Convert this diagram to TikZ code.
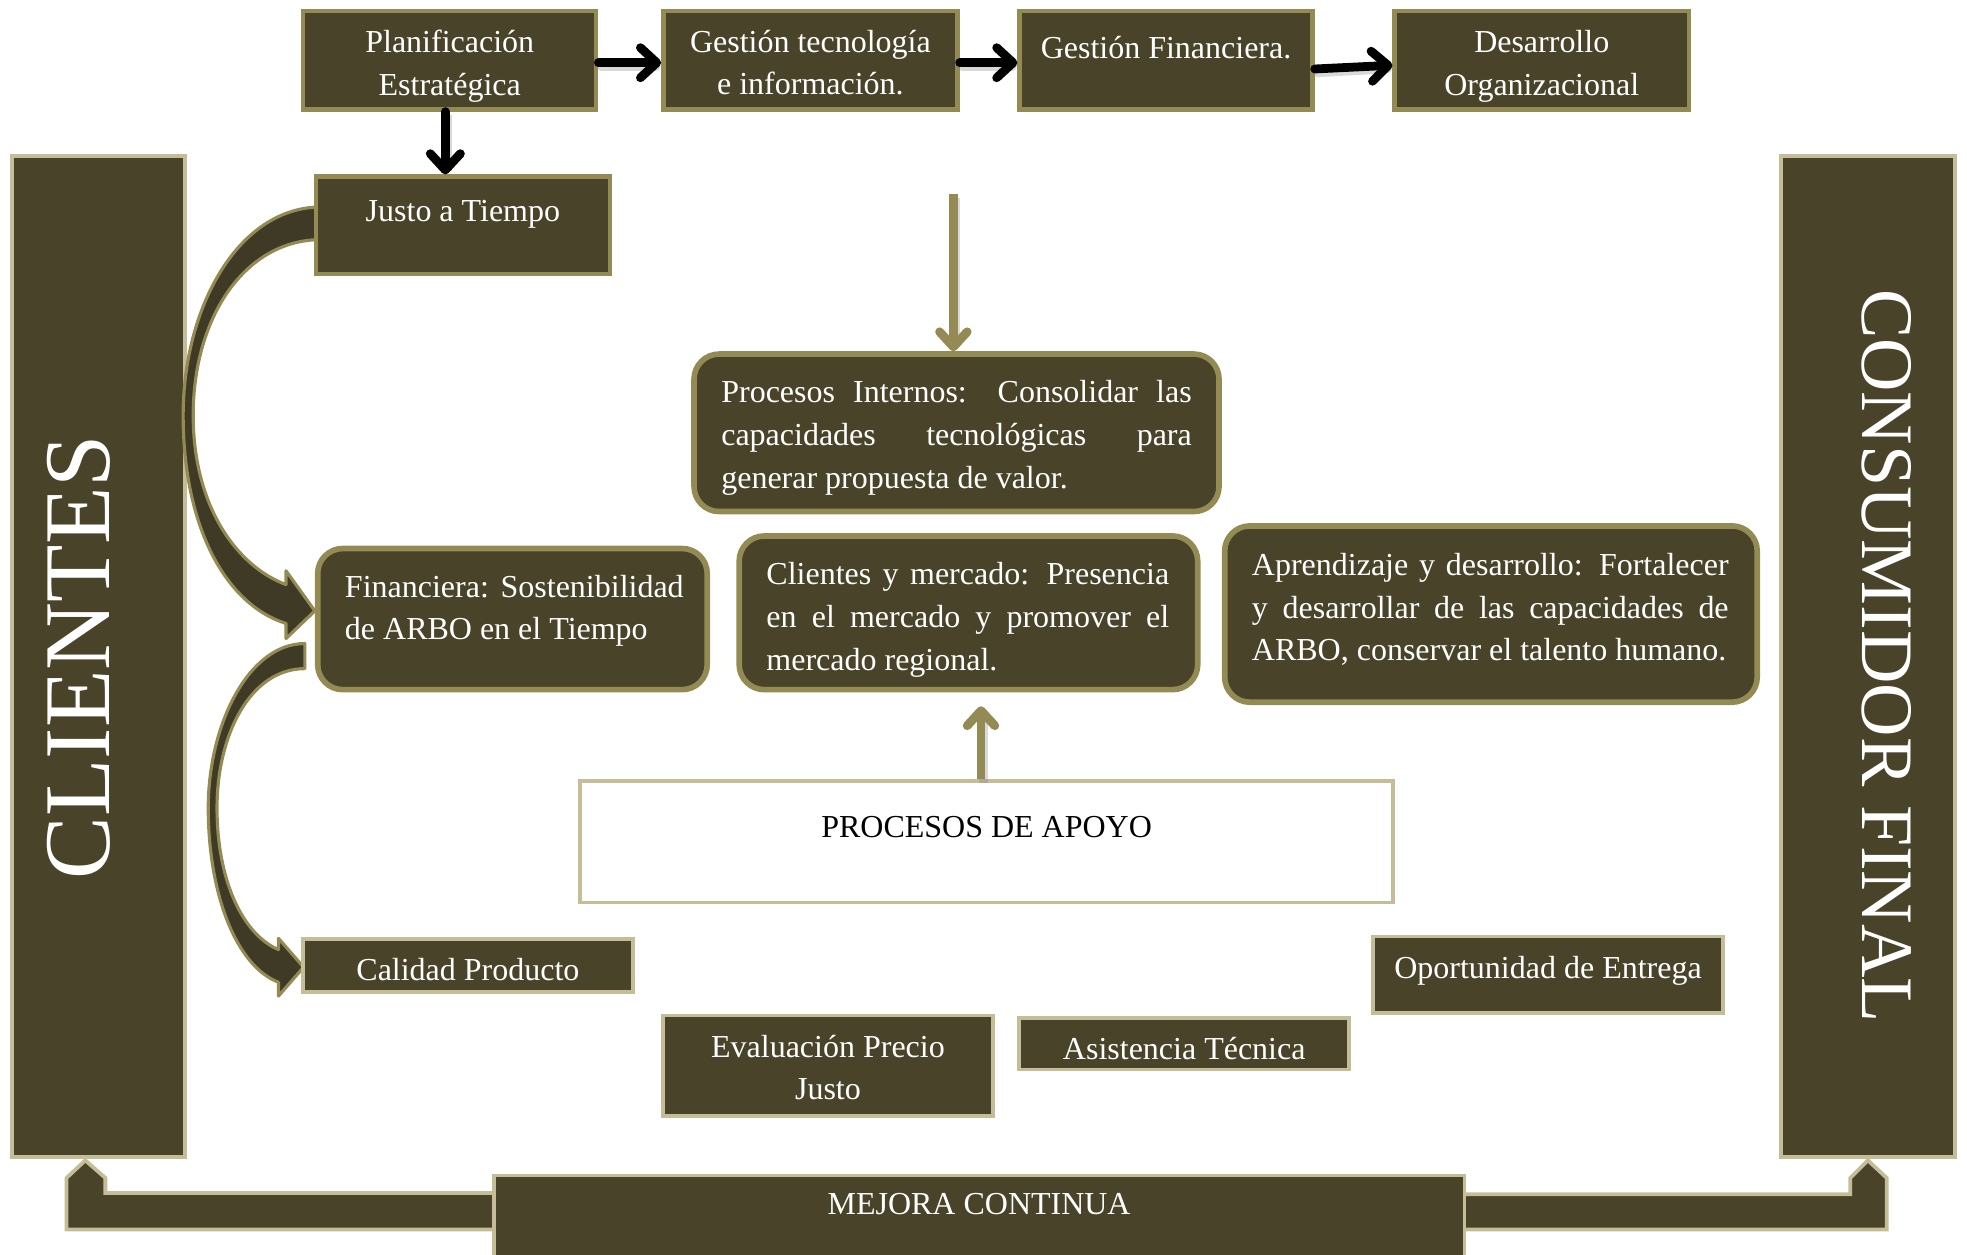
\documentclass[tikz,border=0pt]{standalone}
\usepackage{fontspec}
\setmainfont{Liberation Serif}
\usetikzlibrary{arrows.meta}
\definecolor{boxfill}{HTML}{494429}
\definecolor{olive}{HTML}{948A54}
\definecolor{tan}{HTML}{C4BD97}
\definecolor{ribbon}{HTML}{3F3A26}

\begin{document}
\begin{tikzpicture}[x=1pt,y=-1pt,
  darkbox/.style={rectangle, draw=olive, line width=3.5pt, fill=boxfill, inner sep=0pt},
  tanbox/.style={rectangle, draw=tan, line width=3pt, fill=boxfill, inner sep=0pt},
  roundbox/.style={rectangle, rounded corners=20pt, draw=olive, line width=4.5pt, fill=boxfill, inner sep=0pt},
  whitebox/.style={rectangle, draw=tan, line width=3pt, fill=white, inner sep=0pt},
  txt/.style={text=white, font=\fontsize{25.5}{34}\selectfont, inner sep=0pt, align=center},
  justtxt/.style={txt, align=justify},
  blackarrow/.style={draw=black, line width=7pt, line cap=round,
    -{Straight Barb[length=13pt,width=24pt,line join=round,line cap=round]}},
  olivearrow/.style={draw=olive, line width=7pt,
    -{Straight Barb[length=12pt,width=22pt,line join=round,line cap=round]}},
  arrowshadow/.style={draw=black!50, opacity=0.3, transform canvas={xshift=2pt,yshift=-3pt}},
  ribbonarrow/.style={fill=ribbon, draw=olive, line width=2.5pt, line join=round},
  bentarrow/.style={fill=boxfill, draw=tan, line width=3pt, line join=miter}
]
\useasboundingbox (0,0) rectangle (1568,1000);
\clip (0,0) rectangle (1568,1000);

% side columns
\node[tanbox, minimum width=138pt, minimum height=798pt] (clientes) at (78.5,523.5) {};
\node[tanbox, minimum width=139pt, minimum height=798pt] (consumidor) at (1489,523.5) {};
\node[text=white, font=\fontsize{75}{75}\selectfont, inner sep=0pt, rotate=90] (tclientes) at (62.5,524) {CLIENTES};
\node[text=white, font=\fontsize{59}{59}\selectfont, inner sep=0pt, rotate=-90] (tconsumidor) at (1504,523) {CONSUMIDOR FINAL};

% curved ribbon arrows on the left
\filldraw[ribbonarrow] (256,165) .. controls (190,165) and (146,245) .. (146,331)
  .. controls (146,420) and (180,482) .. (228,497)
  -- (228,509) -- (251,487) -- (228,455) -- (228,466)
  .. controls (190,452) and (154,405) .. (154,331)
  .. controls (154,252) and (196,191) .. (256,191) -- cycle;
\filldraw[ribbonarrow] (243,513) .. controls (198,513) and (166,578) .. (166,644)
  .. controls (166,712) and (188,770) .. (222,783)
  -- (222,794) -- (242,771) -- (222,748) -- (222,757)
  .. controls (194,745) and (173,703) .. (173,644)
  .. controls (173,585) and (200,533) .. (243,533) -- cycle;

% continuous improvement loop arrows
\filldraw[bentarrow] (68,925) -- (84,939) -- (84,951) -- (400,951) -- (400,980)
  -- (53,980) -- (53,939) -- cycle;
\filldraw[bentarrow] (1489,925) -- (1504,939) -- (1504,980) -- (1160,980)
  -- (1160,952) -- (1475,952) -- (1475,939) -- cycle;
\node[tanbox, minimum width=774pt, minimum height=90pt, anchor=north] (mejora) at (780.5,935.5) {};
\node[txt] (tmejora) at (780.5,960) {MEJORA CONTINUA};

% strategic chain
\node[darkbox, minimum width=233.5pt, minimum height=78.5pt] (plan) at (358.5,48) {};
\node[darkbox, minimum width=234.5pt, minimum height=78.5pt] (gtec) at (646,48) {};
\node[darkbox, minimum width=233.5pt, minimum height=78.5pt] (gfin) at (929.5,48) {};
\node[darkbox, minimum width=234.5pt, minimum height=78.5pt] (desa) at (1229,48) {};
\node[txt] (tplan) at (358.5,53) {Planificación\\Estratégica};
\node[txt] (tgtec) at (646,50) {Gestión tecnología\\e información.};
\node[txt] (tgfin) at (929.5,38) {Gestión Financiera.};
\node[txt] (tdesa) at (1229,53) {Desarrollo\\Organizacional};

\node[darkbox, minimum width=234.5pt, minimum height=77.5pt] (justo) at (369,179.5) {};
\node[txt] (tjusto) at (369,171) {Justo a Tiempo};

% perspective boxes
\node[roundbox, minimum width=418.5pt, minimum height=125.5pt] (procint) at (762.5,345) {};
\node[justtxt, text width=375pt] (tprocint) at (762.5,349)
  {Procesos Internos: Consolidar las\linebreak capacidades tecnológicas para\linebreak generar propuesta de valor.};
\node[roundbox, minimum width=310.5pt, minimum height=112.5pt] (finan) at (408.5,493.5) {};
\node[justtxt, text width=270pt] (tfinan) at (410,487)
  {Financiera: Sostenibilidad\linebreak de ARBO en el Tiempo};
\node[roundbox, minimum width=365.5pt, minimum height=122.5pt] (clmer) at (772,488.5) {};
\node[justtxt, text width=321pt] (tclmer) at (771.5,494)
  {Clientes y mercado: Presencia\linebreak en el mercado y promover el\linebreak mercado regional.};
\node[roundbox, minimum width=424.5pt, minimum height=140.5pt] (aprend) at (1188.5,489.5) {};
\node[justtxt, text width=380pt] (taprend) at (1188,486)
  {Aprendizaje y desarrollo: Fortalecer\linebreak y desarrollar de las capacidades de\linebreak ARBO, conservar el talento humano.};

% support processes
\node[whitebox, minimum width=648pt, minimum height=97pt] (apoyo) at (786.5,671) {};
\node[txt, text=black] (tapoyo) at (786.5,659) {PROCESOS DE APOYO};

% operational boxes
\node[tanbox, minimum width=263pt, minimum height=42pt] (calidad) at (373,769.5) {};
\node[txt] (tcalidad) at (373,773) {Calidad Producto};
\node[tanbox, minimum width=279pt, minimum height=61pt] (oport) at (1234,777) {};
\node[txt] (toport) at (1234,774) {Oportunidad de Entrega};
\node[tanbox, minimum width=263pt, minimum height=80pt] (evalu) at (660,849.5) {};
\node[txt] (tevalu) at (660,851) {Evaluación Precio\\Justo};
\node[tanbox, minimum width=263pt, minimum height=41pt] (asist) at (944,832) {};
\node[txt] (tasist) at (944,836) {Asistencia Técnica};

% black arrows of the strategic chain
\coordinate (ptop) at (760,155);
\foreach \a/\b/\sa/\sb in {plan/gtec/-2pt/-2pt, gtec/gfin/-2pt/-2pt, gfin/desa/-7pt/-4pt}{
  \draw[arrowshadow, line width=7pt, line cap=round] ([yshift=\sa]\a.east) -- ([yshift=\sb,xshift=-6pt]\b.west);
  \draw[blackarrow] ([yshift=\sa]\a.east) -- ([yshift=\sb]\b.west);
}
\draw[arrowshadow, line width=7pt] ([xshift=-3.5pt]plan.south) -- ([xshift=-3.5pt,yshift=6pt]plan.south |- justo.north);
\draw[blackarrow] ([xshift=-3.5pt]plan.south) -- ([xshift=-3.5pt]plan.south |- justo.north);

% olive arrows
\draw[arrowshadow, line width=7pt] (ptop) -- ([yshift=6pt]ptop |- procint.north);
\draw[olivearrow] (ptop) -- (ptop |- procint.north);
\draw[arrowshadow, line width=7pt] ([xshift=-4.5pt]apoyo.north) -- ([xshift=-4.5pt,yshift=-16pt]apoyo.north |- clmer.south);
\draw[olivearrow] ([xshift=-4.5pt]apoyo.north) -- ([xshift=-4.5pt,yshift=-11pt]apoyo.north |- clmer.south);
\end{tikzpicture}
\end{document}
